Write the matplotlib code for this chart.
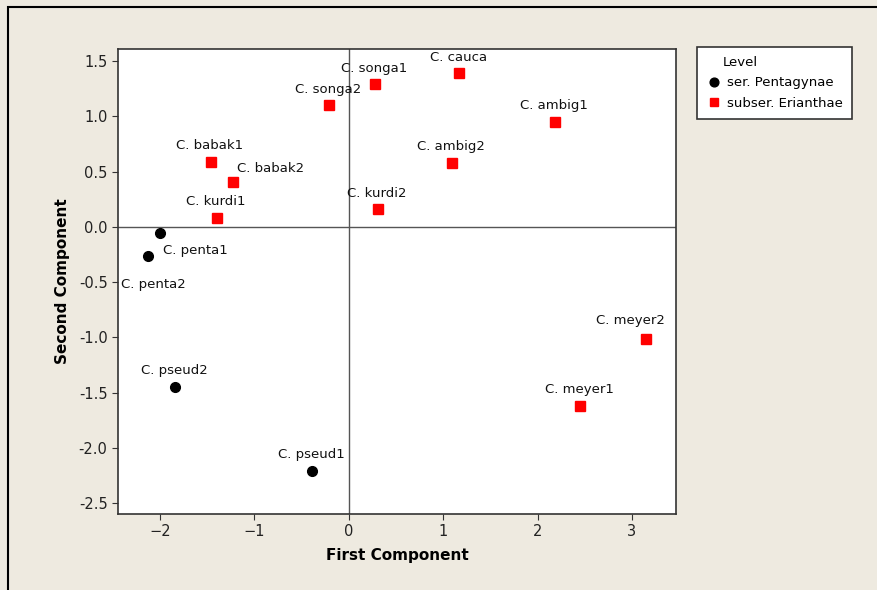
import matplotlib.pyplot as plt
from matplotlib.patches import Rectangle

# PCA scores for each taxon
penta_names = ['C. penta1', 'C. penta2', 'C. pseud2', 'C. pseud1']
penta_x = [-2.00, -2.13, -1.84, -0.39]
penta_y = [-0.06, -0.26, -1.45, -2.21]

eri_names = ['C. babak1', 'C. babak2', 'C. kurdi1', 'C. songa2', 'C. songa1',
             'C. cauca', 'C. ambig1', 'C. ambig2', 'C. kurdi2', 'C. meyer2',
             'C. meyer1']
eri_x = [-1.46, -1.23, -1.40, -0.21, 0.28, 1.17, 2.18, 1.09, 0.31, 3.15, 2.45]
eri_y = [0.59, 0.41, 0.08, 1.10, 1.29, 1.39, 0.95, 0.58, 0.16, -1.02, -1.62]

x_ticks = [-2, -1, 0, 1, 2, 3]
y_ticks = [1.5, 1.0, 0.5, 0.0, -0.5, -1.0, -1.5, -2.0, -2.5]

# label placement (pixel offset from point, horizontal alignment)
offsets = {
    'C. babak2': (4, 13, 'left'),
    'C. penta1': (3, -17, 'left'),
    'C. penta2': (-27, -29, 'left'),
    'C. meyer2': (-16, 19, 'center'),
}
default_offset = (-1, 16, 'center')

bg = '#eeeae0'
fig = plt.figure(figsize=(8.77, 5.90), dpi=100, facecolor=bg)
fig.patches.append(Rectangle((8 / 877, -0.1), 1.2, 1 - 7 / 590 + 0.1,
                             transform=fig.transFigure, facecolor='none',
                             edgecolor='black', linewidth=1.5))

ax = fig.add_axes([118 / 877, 1 - 514 / 590, 558 / 877, 465 / 590])
ax.set_facecolor('white')

ax.axhline(0, color='#555555', linewidth=1, zorder=1)
ax.axvline(0, color='#555555', linewidth=1, zorder=1)

ax.plot(penta_x, penta_y, 'o', color='black', markersize=7,
        linestyle='none', label='ser. Pentagynae', zorder=3)
ax.plot(eri_x, eri_y, 's', color='#ff0000', markersize=7,
        linestyle='none', label='subser. Erianthae', zorder=3)

for names, xs, ys in [(penta_names, penta_x, penta_y), (eri_names, eri_x, eri_y)]:
    for n, x, y in zip(names, xs, ys):
        dx, dy, ha = offsets.get(n, default_offset)
        ax.annotate(n, (x, y), xytext=(dx, dy), textcoords='offset pixels',
                    ha=ha, va='center', fontsize=9.5, color='#111111')

ax.set_xlim(-2.446, 3.467)
ax.set_ylim(-2.6, 1.61)
ax.set_xticks(x_ticks)
ax.set_yticks(y_ticks)
ax.set_yticklabels([f'{t:.1f}' for t in y_ticks])
ax.tick_params(labelsize=10.5, length=4, color='#333333', labelcolor='#222222')
for s in ax.spines.values():
    s.set_color('#333333')
    s.set_linewidth(1.2)

ax.set_xlabel('First Component', fontsize=11, fontweight='bold', labelpad=6)
ax.set_ylabel('Second Component', fontsize=11, fontweight='bold', labelpad=6)

leg = ax.legend(loc='upper left', bbox_to_anchor=(697 / 877, 1 - 47 / 590),
                bbox_transform=fig.transFigure, title='Level', fontsize=9.5,
                title_fontsize=9.5, frameon=True, fancybox=False,
                borderpad=0.7, handletextpad=0.4, handlelength=1.2,
                labelspacing=0.55, borderaxespad=0, markerscale=0.9)
leg._legend_box.align = 'left'
leg.get_title().set_position((17, 0))
frame = leg.get_frame()
frame.set_edgecolor('#333333')
frame.set_linewidth(1.2)
frame.set_facecolor('white')
frame.set_alpha(1)

fig.savefig('out.png', dpi=100, facecolor=bg)
